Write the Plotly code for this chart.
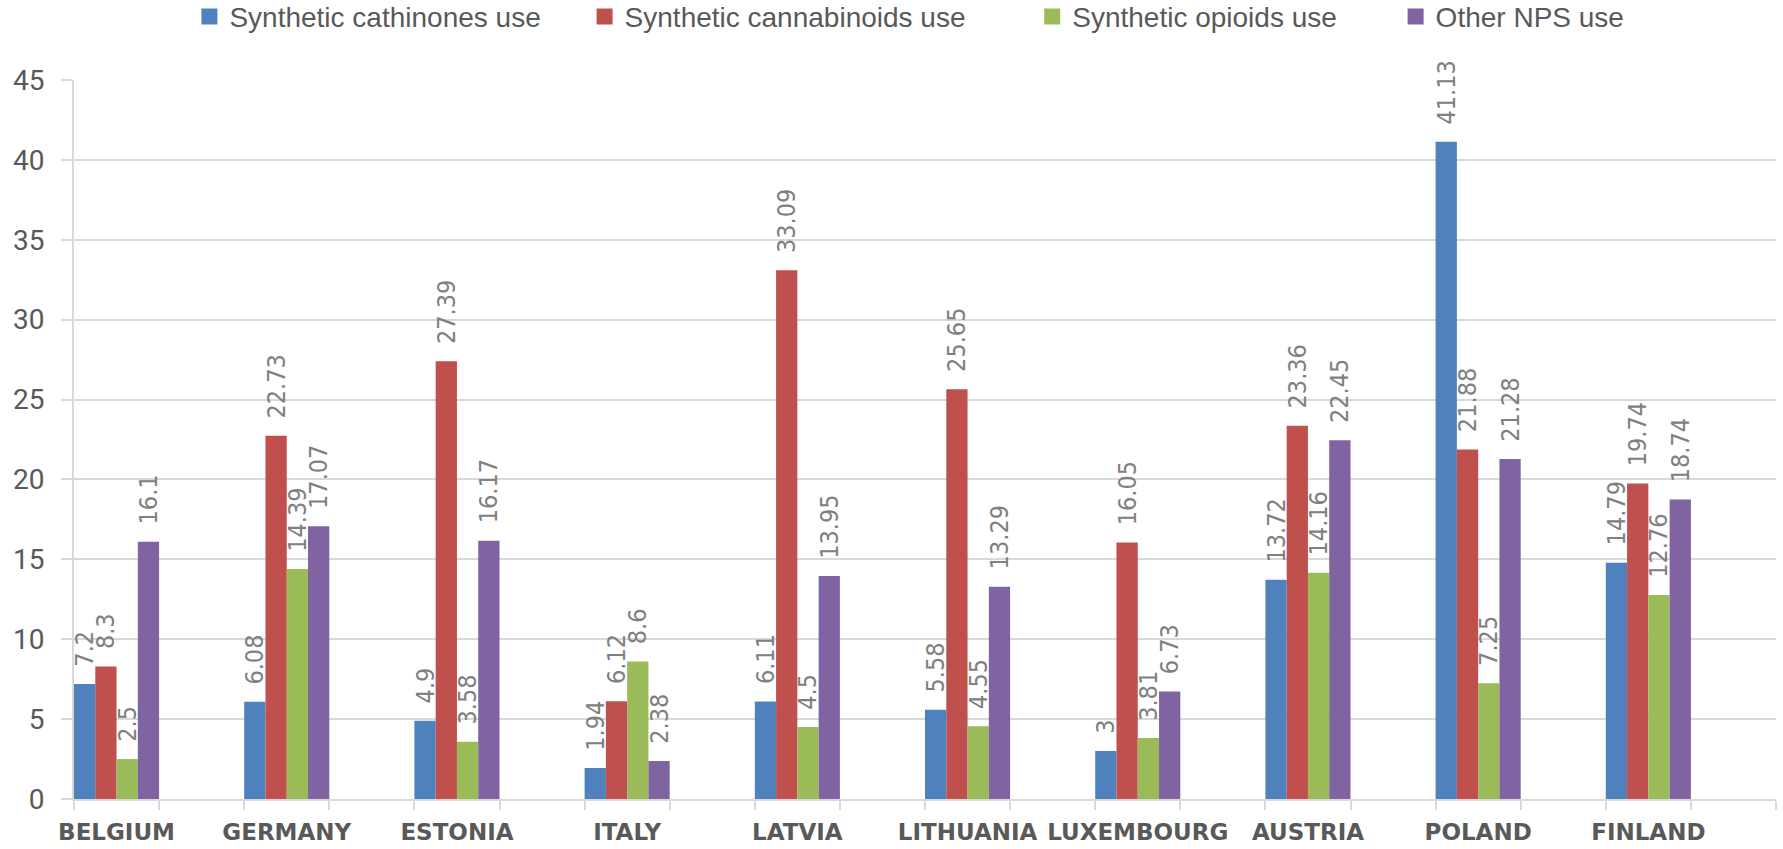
import plotly.graph_objects as go

countries = ["BELGIUM", "GERMANY", "ESTONIA", "ITALY", "LATVIA",
             "LITHUANIA", "LUXEMBOURG", "AUSTRIA", "POLAND", "FINLAND"]

cathinones = [7.2, 6.08, 4.9, 1.94, 6.11, 5.58, 3, 13.72, 41.13, 14.79]
cannabinoids = [8.3, 22.73, 27.39, 6.12, 33.09, 25.65, 16.05, 23.36, 21.88, 19.74]
opioids = [2.5, 14.39, 3.58, 8.6, 4.5, 4.55, 3.81, 14.16, 7.25, 12.76]
other_nps = [16.1, 17.07, 16.17, 2.38, 13.95, 13.29, 6.73, 22.45, 21.28, 18.74]

series = [
    ("Synthetic cathinones use", cathinones, "#4f81bd"),
    ("Synthetic cannabinoids use", cannabinoids, "#c0504d"),
    ("Synthetic opioids use", opioids, "#9bbb59"),
    ("Other NPS use", other_nps, "#8064a2"),
]

# each country owns two axis slots; its four bars fill the first one
slot_start = [2 * i for i in range(len(countries))]
bar_w = 0.25
legend_x = [0.0678, 0.3000, 0.5630, 0.7765]
legend_ids = ["legend", "legend2", "legend3", "legend4"]

GRID = "#d9d9d9"
TXT = "#595959"
LABEL_FONT = "DejaVu Sans Condensed, Liberation Sans, sans-serif"

fig = go.Figure()
for k, (name, vals, color) in enumerate(series):
    fig.add_trace(go.Bar(
        name=name,
        x=slot_start,
        y=vals,
        offset=k * bar_w,
        width=bar_w,
        marker=dict(color=color, line=dict(width=0)),
        text=["\u00a0\u00a0" + f"{v:g}" for v in vals],
        textposition="outside",
        textangle=-90,
        constraintext="none",
        cliponaxis=False,
        textfont=dict(family=LABEL_FONT, size=25, color="#808080"),
        showlegend=False,
        hovertemplate="%{y}<extra>" + name + "</extra>",
    ))
    # square legend key for the series
    fig.add_trace(go.Scatter(
        name=name,
        x=[None], y=[None],
        mode="markers",
        marker=dict(symbol="square", size=16, color=color),
        legend=legend_ids[k],
        hoverinfo="skip",
    ))

layout_legends = {}
for k, lid in enumerate(legend_ids):
    layout_legends[lid] = dict(
        x=legend_x[k], xanchor="left", y=1.088, yanchor="middle",
        orientation="h", bgcolor="rgba(0,0,0,0)", borderwidth=0,
        itemsizing="trace",
        font=dict(family="Liberation Sans, Arial, sans-serif", size=28, color=TXT),
    )

fig.update_layout(
    width=1783, height=849,
    margin=dict(l=74, r=7, t=80, b=50, autoexpand=False),
    paper_bgcolor="white", plot_bgcolor="white",
    barmode="overlay",
    showlegend=True,
    **layout_legends,
)

fig.update_xaxes(
    automargin=False,
    range=[0, 20],
    tickmode="array",
    tickvals=[s + 0.5 for s in slot_start],
    ticktext=countries,
    ticks="",
    ticklabelstandoff=11,
    tickfont=dict(family="DejaVu Sans", size=23, color=TXT, weight="bold"),
    showgrid=False,
    zeroline=False,
    showline=True, linecolor=GRID, linewidth=2,
    minor=dict(tickmode="array", tickvals=list(range(21)), ticks="outside",
               ticklen=9, tickwidth=2, tickcolor=GRID, showgrid=False),
    fixedrange=True,
)

fig.update_yaxes(
    automargin=False,
    range=[0, 45],
    dtick=5,
    tick0=0,
    showgrid=True, gridcolor=GRID, gridwidth=2,
    zeroline=False,
    showline=True, linecolor=GRID, linewidth=2,
    ticks="outside", ticklen=11, tickwidth=2, tickcolor=GRID,
    ticklabelstandoff=11,
    tickfont=dict(family="Roboto, sans-serif", size=28, color=TXT),
    fixedrange=True,
)

fig.write_html("out.html")
